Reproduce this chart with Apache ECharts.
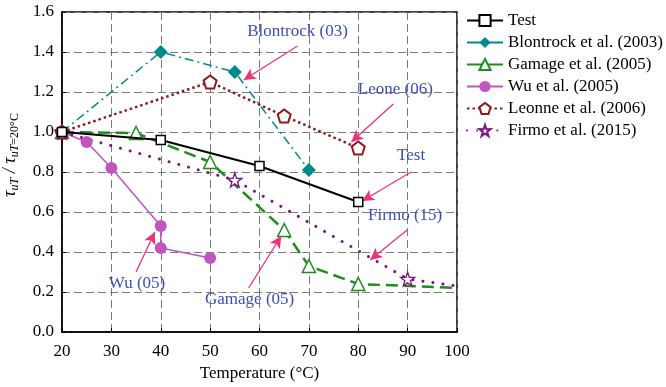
<!DOCTYPE html>
<html>
<head>
<meta charset="utf-8">
<script src="https://cdn.jsdelivr.net/npm/echarts@6/dist/echarts.min.js"></script>
<style>
html,body{margin:0;padding:0;background:#fff;}
#main{width:666px;height:387px;}
</style>
</head>
<body>
<div id="main"></div>
<script>
// 温度与粘结强度比 数据
var xTicks = [20, 30, 40, 50, 60, 70, 80, 90, 100];
var yTicks = ["0.0", "0.2", "0.4", "0.6", "0.8", "1.0", "1.2", "1.4", "1.6"];

var testData = [[20, 1.0], [40, 0.96], [60, 0.83], [80, 0.65]];
var blontrockData = [[20, 1.0], [40, 1.40], [55, 1.30], [70, 0.81]];
var gamageData = [[20, 1.0], [35, 0.995], [50, 0.85], [65, 0.51], [70, 0.33], [80, 0.24]];
var gamageTail = [100, 0.22];
var wuData = [[20, 1.0], [25, 0.95], [30, 0.82], [40, 0.53], [40, 0.42], [50, 0.37]];
var leoneData = [[20, 1.0], [50, 1.25], [65, 1.08], [80, 0.92]];
var firmoData = [[20, 1.0], [55, 0.76], [90, 0.265]];
var firmoTail = [100, 0.23];

// 标注：文字位置 + 箭头起止点（数据坐标）
var noteText = ["Blontrock (03)", "Leone (06)", "Test", "Firmo (15)", "Gamage (05)", "Wu (05)"];
var notePos = [[67.7, 1.50], [87.5, 1.21], [90.7, 0.88], [89.5, 0.58], [58, 0.16], [35.2, 0.24]];
var arrowFrom = [[67.7, 1.43], [87.1, 1.14], [90.7, 0.80], [89.9, 0.51], [57.8, 0.22], [35, 0.30]];
var arrowTo = [[56.8, 1.26], [78.6, 0.95], [80.8, 0.655], [82.4, 0.36], [64.4, 0.48], [38.8, 0.50]];

var pentagon = 'path://M50,0 L97.6,34.5 L79.4,90.5 L20.6,90.5 L2.4,34.5 Z';
var star = 'path://M50,0 L61.8,35.1 L97.6,34.5 L69,56.5 L79.4,90.5 L50,70 L20.6,90.5 L31,56.5 L2.4,34.5 L38.2,35.1 Z';

var serif = '"Liberation Serif", "Times New Roman", serif';

var myChart = echarts.init(document.getElementById('main'));

var arrowLines = [];
var notePoints = [];
for (var i = 0; i < noteText.length; i++) {
    arrowLines.push([{coord: arrowFrom[i], symbol: 'none'}, {coord: arrowTo[i], symbol: 'arrow'}]);
    notePoints.push({coord: notePos[i], value: noteText[i]});
}

myChart.setOption({
    animation: false,
    textStyle: {fontFamily: serif},
    grid: {
        left: 62, right: 209, top: 12, bottom: 55,
        show: true, borderColor: '#000', borderWidth: 1.5
    },
    // y轴标题（带下标）
    graphic: [{
        type: 'text',
        x: 10, y: 155,
        rotation: Math.PI / 2,
        style: {
            text: '{t|τ}{s|uT}{t| / τ}{s|uT}{r|=20°C}',
            align: 'center',
            verticalAlign: 'middle',
            rich: {
                t: {fontFamily: serif, fontSize: 18, fontStyle: 'italic', fill: '#000'},
                s: {fontFamily: serif, fontSize: 12, fontStyle: 'italic', fill: '#000', padding: [10, 0, 0, 0]},
                r: {fontFamily: serif, fontSize: 12, fill: '#000', padding: [10, 0, 0, 0]}
            }
        }
    }],
    legend: {
        data: [
            {name: 'Test'},
            {name: 'Blontrock et al. (2003)', lineStyle: {type: 'solid'}},
            {name: 'Gamage et al. (2005)', lineStyle: {type: 'solid'}},
            {name: 'Wu et al. (2005)'},
            {name: 'Leonne et al. (2006)'},
            {name: 'Firmo et al. (2015)'}
        ],
        orient: 'vertical',
        left: 461,
        top: 7,
        itemWidth: 36,
        itemHeight: 14,
        itemGap: 5,
        textStyle: {fontFamily: serif, fontSize: 17, color: '#000', lineHeight: 17}
    },
    xAxis: {
        type: 'value',
        min: 20, max: 100, interval: 10,
        name: 'Temperature (°C)',
        nameLocation: 'middle',
        nameGap: 33,
        nameTextStyle: {fontFamily: serif, fontSize: 17, color: '#000'},
        axisLine: {lineStyle: {color: '#000', width: 1.5}},
        axisTick: {show: true, inside: true, length: 4, lineStyle: {color: '#000', width: 1}},
        axisLabel: {
            fontFamily: serif, fontSize: 17, color: '#000', margin: 11,
            formatter: function (v) { return xTicks.indexOf(v) >= 0 ? String(v) : ''; }
        },
        splitLine: {show: true, lineStyle: {color: '#7a7a7a', width: 1, type: [8, 4]}}
    },
    yAxis: {
        type: 'value',
        min: 0, max: 1.6, interval: 0.2,
        axisLine: {show: true, lineStyle: {color: '#000', width: 1.5}},
        axisTick: {show: true, inside: true, length: 4, lineStyle: {color: '#000', width: 1}},
        axisLabel: {
            fontFamily: serif, fontSize: 17, color: '#000', margin: 8,
            formatter: function (v) { return yTicks[Math.round(v / 0.2)]; }
        },
        splitLine: {show: true, lineStyle: {color: '#7a7a7a', width: 1, type: [8, 4]}}
    },
    series: [
        {
            name: 'Test', type: 'line', data: testData, z: 6,
            symbol: 'rect', symbolSize: 9, showAllSymbol: true,
            lineStyle: {color: '#000', width: 2},
            itemStyle: {color: '#fff', borderColor: '#000', borderWidth: 1.5}
        },
        {
            name: 'Blontrock et al. (2003)', type: 'line', data: blontrockData,
            symbol: 'diamond', symbolSize: 14,
            lineStyle: {color: '#008a8a', width: 1.5, type: [9, 4, 2, 4]},
            itemStyle: {color: '#008a8a'}
        },
        {
            name: 'Gamage et al. (2005)', type: 'line',
            data: gamageData.concat([{value: gamageTail, symbol: 'none'}]),
            symbol: 'triangle', symbolSize: 13,
            lineStyle: {color: '#1e8c1e', width: 2.5, type: [12, 6]},
            itemStyle: {color: '#fff', borderColor: '#1e8c1e', borderWidth: 1.5}
        },
        {
            name: 'Wu et al. (2005)', type: 'line', data: wuData,
            symbol: 'circle', symbolSize: 12,
            lineStyle: {color: '#c055c0', width: 1.5},
            itemStyle: {color: '#c055c0'}
        },
        {
            name: 'Leonne et al. (2006)', type: 'line', data: leoneData,
            symbol: pentagon, symbolSize: 13,
            lineStyle: {color: '#8c1a1a', width: 2.5, type: [2.5, 3]},
            itemStyle: {color: '#fff', borderColor: '#8c1a1a', borderWidth: 2}
        },
        {
            name: 'Firmo et al. (2015)', type: 'line',
            data: firmoData.concat([{value: firmoTail, symbol: 'none'}]),
            symbol: star, symbolSize: 14,
            lineStyle: {color: '#7d1585', width: 3, type: [0.1, 10], cap: 'round'},
            itemStyle: {color: '#fff', borderColor: '#7d1585', borderWidth: 1.3}
        },
        {
            // 标注箭头和文字
            name: 'notes', type: 'line', data: [], silent: true, z: 8,
            markLine: {
                silent: true,
                symbolSize: [9, 12],
                label: {show: false},
                lineStyle: {color: '#f0307a', width: 1.3, type: 'solid'},
                data: arrowLines
            },
            markPoint: {
                silent: true,
                symbol: 'circle', symbolSize: 0,
                label: {
                    show: true, position: 'inside',
                    fontFamily: serif, fontSize: 17, color: '#3e4db8',
                    formatter: function (p) { return p.value; }
                },
                data: notePoints
            }
        }
    ]
});
</script>
</body>
</html>
